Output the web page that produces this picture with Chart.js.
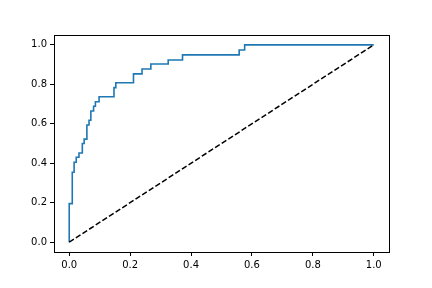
<!DOCTYPE html>
<html><head><meta charset="utf-8">
<script src="https://cdn.jsdelivr.net/npm/chart.js@4/dist/chart.umd.min.js"></script>
<style>html,body{margin:0;padding:0;background:#fff;}#wrap{width:432px;height:288px;}</style>
</head><body><div id="wrap"><canvas id="c" width="432" height="288"></canvas></div>
<script>
const fpr = [0,0,0.010,0.010,0.016,0.016,0.023,0.023,0.032,0.032,0.043,0.043,0.049,0.049,0.058,0.058,0.065,0.065,0.071,0.071,0.080,0.080,0.086,0.086,0.098,0.098,0.147,0.147,0.153,0.153,0.211,0.211,0.239,0.239,0.268,0.268,0.325,0.325,0.372,0.372,0.558,0.558,0.576,0.576,1.0];
const tpr = [0,0.195,0.195,0.354,0.354,0.405,0.405,0.430,0.430,0.452,0.452,0.500,0.500,0.522,0.522,0.594,0.594,0.618,0.618,0.665,0.665,0.689,0.689,0.712,0.712,0.737,0.737,0.783,0.783,0.808,0.808,0.853,0.853,0.878,0.878,0.903,0.903,0.923,0.923,0.949,0.949,0.974,0.974,1.0,1.0];
const diagX = [0,1];
const diagY = [0,1];
const tickValues = [0,0.2,0.4,0.6,0.8,1.0];

const frame = {
  id:'frame',
  afterDraw(chart){
    const a = chart.chartArea, ctx = chart.ctx;
    ctx.save();
    ctx.strokeStyle = '#000';
    ctx.lineWidth = 1;
    ctx.strokeRect(Math.round(a.left)+0.5, Math.round(a.top)+0.5, Math.round(a.right-a.left), Math.round(a.bottom-a.top));
    ctx.restore();
  }
};

const tickOpts = {
  color:'#000', font:{family:'DejaVu Sans', size:10}, padding:3,
  callback:(v)=>Number(v).toFixed(1)
};
const gridOpts = {display:true, drawOnChartArea:false, drawTicks:true, tickLength:4, color:'#000', lineWidth:1};

new Chart(document.getElementById('c'), {
  type:'scatter',
  data:{datasets:[
    {data:fpr.map((x,i)=>({x:x,y:tpr[i]})), showLine:true, borderColor:'#1f77b4', borderWidth:1.6, pointRadius:0, tension:0, fill:false, order:2},
    {data:diagX.map((x,i)=>({x:x,y:diagY[i]})), showLine:true, borderColor:'#000', borderWidth:1.5, borderDash:[5.5,2.4], pointRadius:0, tension:0, fill:false, order:1}
  ]},
  options:{
    responsive:false, animation:false, devicePixelRatio:1,
    layout:{padding:{left:0,right:43,top:35,bottom:0}},
    plugins:{legend:{display:false}, tooltip:{enabled:false}},
    scales:{
      x:{type:'linear', min:-0.05, max:1.05, ticks:tickOpts, grid:gridOpts, border:{display:false},
         afterBuildTicks:(s)=>{s.ticks=tickValues.map(v=>({value:v}));},
         afterFit:(s)=>{s.height=36;}},
      y:{type:'linear', min:-0.05, max:1.05, ticks:tickOpts, grid:gridOpts, border:{display:false},
         afterBuildTicks:(s)=>{s.ticks=tickValues.map(v=>({value:v}));},
         afterFit:(s)=>{s.width=54;}}
    }
  },
  plugins:[frame]
});
</script></body></html>
